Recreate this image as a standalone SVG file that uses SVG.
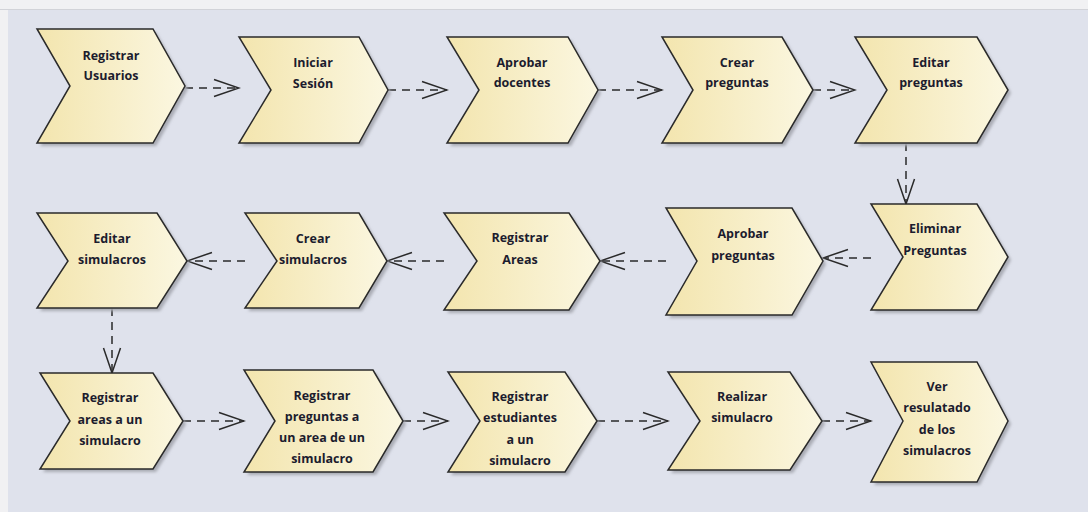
<svg xmlns="http://www.w3.org/2000/svg" width="1088" height="512" viewBox="0 0 1088 512">
<style>
.n{fill:url(#g);stroke:#2a2a2a;stroke-width:1.5;stroke-linejoin:miter}
.s{fill:#a9abb4;filter:url(#b)}
.t{font-family:"Open Sans","Liberation Sans",sans-serif;font-weight:700;font-size:12.5px;fill:#1c1c2e;text-anchor:middle}
.c{fill:none;stroke:#2a2a2a;stroke-width:1.5;stroke-dasharray:8 6;marker-end:url(#a)}
</style>
<defs>
<linearGradient id="g" x1="0" y1="0" x2="1" y2="0">
<stop offset="0" stop-color="#f3e5ae"/>
<stop offset="1" stop-color="#fbf7e1"/>
</linearGradient>
<filter id="b" x="-10%" y="-10%" width="120%" height="120%"><feGaussianBlur stdDeviation="1.5"/></filter>
<marker id="a" markerUnits="userSpaceOnUse" markerWidth="30" markerHeight="24" viewBox="-28 -12 30 24" refX="0" refY="0" orient="auto">
<path d="M-25,-8.5 L0,0 L-25,8.5" fill="none" stroke="#2a2a2a" stroke-width="1.5"/>
</marker>
</defs>
<rect x="0" y="0" width="1088" height="512" fill="#f1f1f3"/>
<rect x="8" y="10" width="1080" height="502" fill="#dfe2ec"/>
<line x1="0" y1="9.5" x2="1088" y2="9.5" stroke="#d2d3d8" stroke-width="1"/>

<g id="connectors">
<path class="c" d="M185,88 H239"/>
<path class="c" d="M388,90 H447"/>
<path class="c" d="M598,90 H662"/>
<path class="c" d="M813,90 H855"/>
<path class="c" d="M906,143 V204"/>
<path class="c" d="M871,258 H823"/>
<path class="c" d="M666,261 H600"/>
<path class="c" d="M444,261 H387"/>
<path class="c" d="M245,261 H187"/>
<path class="c" d="M112,308 V373"/>
<path class="c" d="M183,421 H244"/>
<path class="c" d="M403,421 H448"/>
<path class="c" d="M597,421 H668"/>
<path class="c" d="M822,421 H871"/>
</g>

<g id="n1">
<polygon class="s" transform="translate(3,3)" points="37,29 153,29 185,86 153,143 37,143 70,86"/>
<polygon class="n" points="37,29 153,29 185,86 153,143 37,143 70,86"/>
<text class="t"><tspan x="111" y="60">Registrar</tspan><tspan x="111" y="80">Usuarios</tspan></text>
</g>
<g id="n2">
<polygon class="s" transform="translate(3,3)" points="239,37 359,37 388,90 359,143 239,143 271,90"/>
<polygon class="n" points="239,37 359,37 388,90 359,143 239,143 271,90"/>
<text class="t"><tspan x="313" y="67">Iniciar</tspan><tspan x="313" y="88">Sesión</tspan></text>
</g>
<g id="n3">
<polygon class="s" transform="translate(3,3)" points="447,37 568,37 598,90 568,143 447,143 479,90"/>
<polygon class="n" points="447,37 568,37 598,90 568,143 447,143 479,90"/>
<text class="t"><tspan x="522" y="67">Aprobar</tspan><tspan x="522" y="87">docentes</tspan></text>
</g>
<g id="n4">
<polygon class="s" transform="translate(3,3)" points="662,37 782,37 813,90 782,143 662,143 693,90"/>
<polygon class="n" points="662,37 782,37 813,90 782,143 662,143 693,90"/>
<text class="t"><tspan x="737" y="67">Crear</tspan><tspan x="737" y="87">preguntas</tspan></text>
</g>
<g id="n5">
<polygon class="s" transform="translate(3,3)" points="855,37 977,37 1008,90 977,143 855,143 887,90"/>
<polygon class="n" points="855,37 977,37 1008,90 977,143 855,143 887,90"/>
<text class="t"><tspan x="931" y="67">Editar</tspan><tspan x="931" y="87">preguntas</tspan></text>
</g>

<g id="n6">
<polygon class="s" transform="translate(3,3)" points="871,204 977,204 1008,257 977,310 871,310 903,257"/>
<polygon class="n" points="871,204 977,204 1008,257 977,310 871,310 903,257"/>
<text class="t"><tspan x="935" y="233">Eliminar</tspan><tspan x="935" y="255">Preguntas</tspan></text>
</g>
<g id="n7">
<polygon class="s" transform="translate(3,3)" points="666,208 792,208 823,261 792,315 666,315 697,261"/>
<polygon class="n" points="666,208 792,208 823,261 792,315 666,315 697,261"/>
<text class="t"><tspan x="743" y="238">Aprobar</tspan><tspan x="743" y="260">preguntas</tspan></text>
</g>
<g id="n8">
<polygon class="s" transform="translate(3,3)" points="444,213 569,213 600,261 569,310 444,310 477,261"/>
<polygon class="n" points="444,213 569,213 600,261 569,310 444,310 477,261"/>
<text class="t"><tspan x="520" y="242">Registrar</tspan><tspan x="520" y="264">Areas</tspan></text>
</g>
<g id="n9">
<polygon class="s" transform="translate(3,3)" points="245,213 359,213 387,261 359,308 245,308 277,261"/>
<polygon class="n" points="245,213 359,213 387,261 359,308 245,308 277,261"/>
<text class="t"><tspan x="313" y="243">Crear</tspan><tspan x="313" y="264">simulacros</tspan></text>
</g>
<g id="n10">
<polygon class="s" transform="translate(3,3)" points="37,213 157,213 187,261 157,308 37,308 68,261"/>
<polygon class="n" points="37,213 157,213 187,261 157,308 37,308 68,261"/>
<text class="t"><tspan x="112" y="243">Editar</tspan><tspan x="112" y="264">simulacros</tspan></text>
</g>

<g id="n11">
<polygon class="s" transform="translate(3,3)" points="40,373 153,373 183,421 153,469 40,469 70,421"/>
<polygon class="n" points="40,373 153,373 183,421 153,469 40,469 70,421"/>
<text class="t"><tspan x="110" y="402">Registrar</tspan><tspan x="110" y="424">areas a un</tspan><tspan x="110" y="445">simulacro</tspan></text>
</g>
<g id="n12">
<polygon class="s" transform="translate(3,3)" points="244,370 373,370 403,421 373,472 244,472 275,421"/>
<polygon class="n" points="244,370 373,370 403,421 373,472 244,472 275,421"/>
<text class="t"><tspan x="322" y="400">Registrar</tspan><tspan x="322" y="421">preguntas a</tspan><tspan x="322" y="442">un area de un</tspan><tspan x="322" y="463">simulacro</tspan></text>
</g>
<g id="n13">
<polygon class="s" transform="translate(3,3)" points="448,372 565,372 597,421 565,472 448,472 480,421"/>
<polygon class="n" points="448,372 565,372 597,421 565,472 448,472 480,421"/>
<text class="t"><tspan x="520" y="401">Registrar</tspan><tspan x="520" y="422">estudiantes</tspan><tspan x="520" y="444">a un</tspan><tspan x="520" y="465">simulacro</tspan></text>
</g>
<g id="n14">
<polygon class="s" transform="translate(3,3)" points="668,372 790,372 822,421 790,470 668,470 700,421"/>
<polygon class="n" points="668,372 790,372 822,421 790,470 668,470 700,421"/>
<text class="t"><tspan x="742" y="401">Realizar</tspan><tspan x="742" y="422">simulacro</tspan></text>
</g>
<g id="n15">
<polygon class="s" transform="translate(3,3)" points="871,362 977,362 1008,421 977,482 871,482 903,421"/>
<polygon class="n" points="871,362 977,362 1008,421 977,482 871,482 903,421"/>
<text class="t"><tspan x="937" y="391">Ver</tspan><tspan x="937" y="412">resulatado</tspan><tspan x="937" y="434">de los</tspan><tspan x="937" y="455">simulacros</tspan></text>
</g>
</svg>
